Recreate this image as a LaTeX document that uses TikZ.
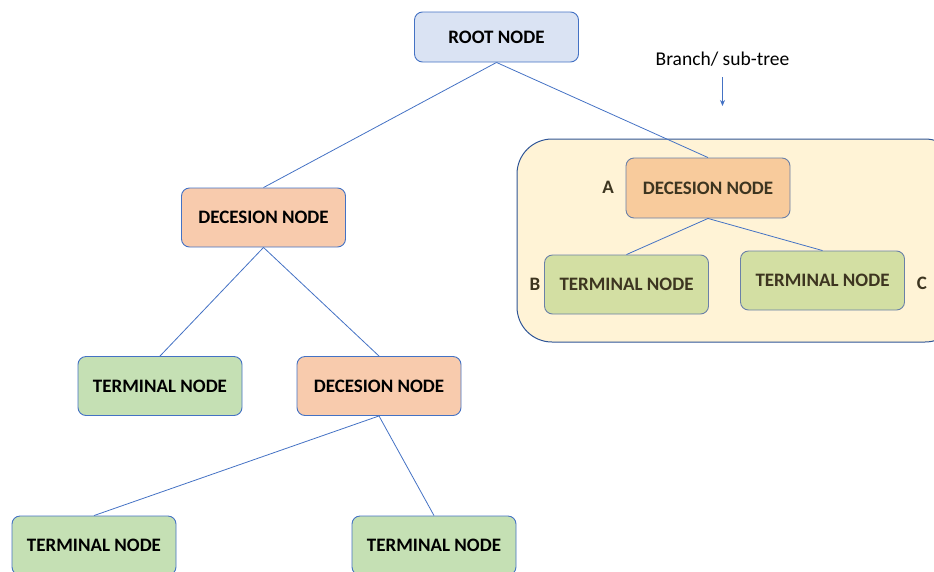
\documentclass[tikz,border=0pt]{standalone}
\usepackage{fontspec}
\setmainfont{Carlito}
\usetikzlibrary{arrows.meta}
\definecolor{edgeblue}{HTML}{4472C4}
\definecolor{frameblue}{HTML}{2F5597}
\definecolor{rootfill}{HTML}{DAE3F3}
\definecolor{decfill}{HTML}{F8CBAD}
\definecolor{termfill}{HTML}{C5E0B4}
\definecolor{subfill}{HTML}{FFF3D6}
\definecolor{subdec}{HTML}{F8CB9C}
\definecolor{subterm}{HTML}{D3DFA3}
\definecolor{subtext}{HTML}{3D3520}
\definecolor{subborder}{HTML}{6A80A8}
\tikzset{
  treebox/.style={rectangle, rounded corners=8pt, draw=edgeblue, line width=0.9pt,
    minimum width=164pt, minimum height=59pt, inner sep=0pt,
    font=\fontsize{19}{22}\selectfont\bfseries},
  rootbox/.style={treebox, fill=rootfill, minimum height=50pt},
  decbox/.style={treebox, fill=decfill},
  termbox/.style={treebox, fill=termfill},
  subdecbox/.style={treebox, fill=subdec, draw=subborder, text=subtext, minimum height=60pt},
  subtermbox/.style={treebox, fill=subterm, draw=subborder, text=subtext},
  tag/.style={font=\fontsize{19}{22}\selectfont\bfseries, text=subtext, inner sep=0pt},
  link/.style={draw=edgeblue, line width=0.8pt},
}
\begin{document}
\begin{tikzpicture}[x=1pt, y=-1pt]
\useasboundingbox (0,0) rectangle (934,571);
\clip (0,0) rectangle (934,571);

% sub-tree frame
\draw[frameblue, fill=subfill, line width=1pt, rounded corners=35pt]
  (517,139) rectangle (960,342);

% nodes
\node[rootbox] (root) at (496.5,37) {ROOT NODE};
\node[decbox] (d1) at (263.5,217.5) {DECESION NODE};
\node[termbox] (t1) at (160,386) {TERMINAL NODE};
\node[decbox] (d2) at (379,386) {DECESION NODE};
\node[termbox] (t2) at (94,545.5) {TERMINAL NODE};
\node[termbox] (t3) at (434,545.5) {TERMINAL NODE};

\node[subdecbox] (da) at (708,188) {DECESION NODE};
\node[subtermbox] (tb) at (626.5,284.5) {TERMINAL NODE};
\node[subtermbox] (tc) at (822.5,280.5) {TERMINAL NODE};

\node[tag] (la) at (608,187) {A};
\node[tag] (lb) at (535,284) {B};
\node[tag] (lc) at (922,283) {C};

% caption and its pointer
\node[font=\fontsize{19.5}{22}\selectfont, inner sep=0pt] (cap) at (722.5,59) {Branch/ sub-tree};
\coordinate (capend) at (722.5,106);
\draw[edgeblue, line width=1pt, -{Stealth[length=6pt,width=5pt]}] (722.5,77) -- (capend);

% connectors
\path[link] (root.south) -- (d1.north);
\path[link] (root.south) -- (da.north);
\path[link] (d1.south) -- (t1.north);
\path[link] (d1.south) -- (d2.north);
\path[link] (d2.south) -- (t2.north);
\path[link] (d2.south) -- (t3.north);
\path[link] (da.south) -- (tb.north);
\path[link] (da.south) -- (tc.north);
\end{tikzpicture}
\end{document}
